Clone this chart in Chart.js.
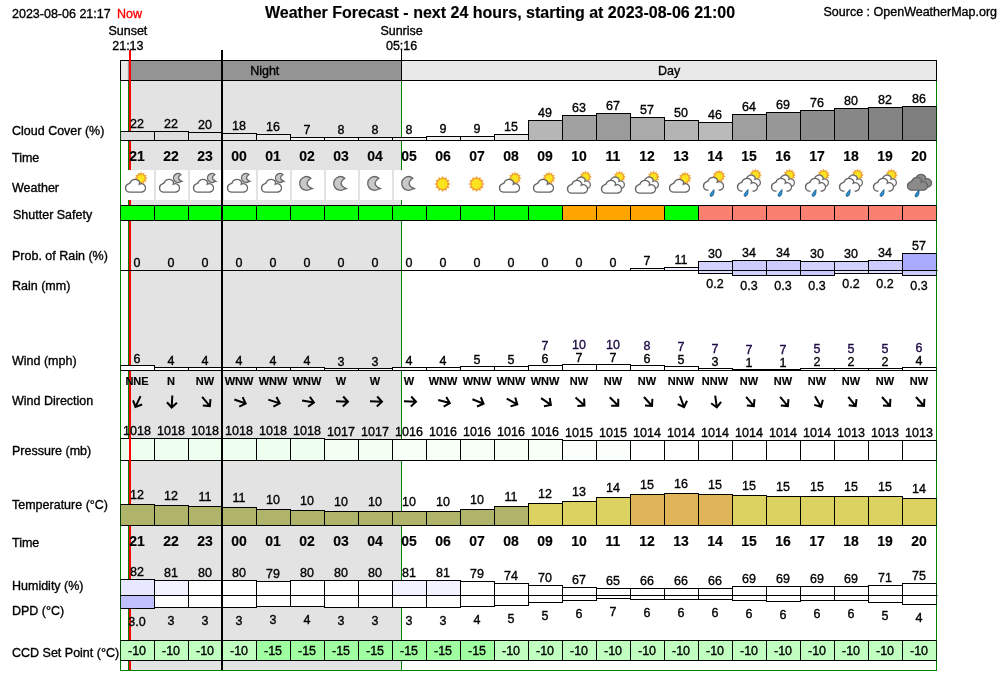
<!DOCTYPE html>
<html>
<head>
<meta charset="utf-8">
<title>Weather Forecast</title>
<script src="https://cdn.jsdelivr.net/npm/chart.js@4/dist/chart.umd.min.js"></script>
<style>
  html, body { margin: 0; background: #fff; }
  canvas { display: block; }
</style>
</head>
<body>
<canvas id="chart" width="1000" height="680"></canvas>
<script>
const hours = ['21','22','23','00','01','02','03','04','05','06','07','08','09','10','11','12','13','14','15','16','17','18','19','20'];
const cloud = [22,22,20,18,16,7,8,8,8,9,9,15,49,63,67,57,50,46,64,69,76,80,82,86];
const icons = ['cs','cm','cm','cm','cm','m','m','m','m','s','s','cs','cs','ccs','ccs','ccs','cs','rcs','rccs','rccs','rccs','rccs','rccs','rd'];
const shutter = [0,0,0,0,0,0,0,0,0,0,0,0,0,1,1,1,0,2,2,2,2,2,2,2];
const rainProb = [0,0,0,0,0,0,0,0,0,0,0,0,0,0,0,7,11,30,34,34,30,30,34,57];
const rainMm = [0,0,0,0,0,0,0,0,0,0,0,0,0,0,0,0,0,0.19,0.27,0.27,0.32,0.16,0.2,0.3];
const wind = [6,4,4,4,4,4,3,3,4,4,5,5,6,7,7,6,5,3,1,1,2,2,2,4];
const gust = [null,null,null,null,null,null,null,null,null,null,null,null,7,10,10,8,7,7,7,7,5,5,5,6];
const windDir = ['NNE','N','NW','WNW','WNW','WNW','W','W','W','WNW','WNW','WNW','WNW','NW','NW','NW','NNW','NNW','NW','NW','NW','NW','NW','NW'];
const windDeg = [25,3,320,290,288,280,272,272,272,285,292,298,305,312,315,318,340,352,320,320,330,322,318,318];
const pressure = [1018,1018,1018,1018,1018,1018,1017,1017,1016,1016,1016,1016,1016,1015,1015,1014,1014,1014,1014,1014,1014,1013,1013,1013];
const temp = [11.9,11.57,11.23,10.9,10.23,9.9,9.57,9.57,9.57,9.57,10.23,11.23,12.23,12.9,14.23,15.23,15.57,15.23,14.9,14.57,14.57,14.57,14.57,13.9];
const humidity = [82,81,80,80,79,80,80,80,81,81,79,74,70,67,65,66,66,66,69,69,69,69,71,75];
const dpd = [3.0,3.12,3.12,3.12,3.52,3.68,3.12,3.12,3.28,3.28,3.52,4.2,5.28,6.08,6.88,6.48,6.48,6.48,6.08,5.68,6.08,6.08,5.28,4.48];
const dpdLabels = ['3.0','3','3','3','3','4','3','3','3','3','4','5','5','6','7','6','6','6','6','6','6','6','5','4'];
const ccd = [-10,-10,-10,-10,-15,-15,-15,-15,-15,-15,-15,-10,-10,-10,-10,-10,-10,-10,-10,-10,-10,-10,-10,-10];

// hours after 21:00
const sunsetAt = 13 / 60, nowAt = 17 / 60, midnightAt = 3, sunriseAt = 8 + 16 / 60;

const FONT = '"Liberation Sans", Arial, sans-serif';
const TOP = 50, BOTTOM = 670;
const rgb = (r, g, b) => `rgb(${r},${g},${b})`;
const clamp = v => Math.max(0, Math.min(255, Math.round(v)));
const shutterColors = ['#00ff00', '#ffa500', '#fa8072'];

// every row shares the plot area, its own scale puts it at the right height
function row(basePx, pxPerUnit, baseValue, reverse) {
  const below = (BOTTOM - basePx) / pxPerUnit, above = (basePx - TOP) / pxPerUnit;
  return reverse
    ? { display: false, reverse: true, min: baseValue - above, max: baseValue + below }
    : { display: false, min: baseValue - below, max: baseValue + above };
}

function bars(axis, data, colors, base) {
  return { type: 'bar', yAxisID: axis, data, backgroundColor: colors, base: base || 0 };
}

function cloudShape(c, x, y, s, fill, stroke) {
  c.beginPath();
  c.arc(x - 6 * s, y + 2 * s, 4.5 * s, 0.5 * Math.PI, 1.4 * Math.PI);
  c.arc(x - 0.5 * s, y - 1.5 * s, 5.5 * s, 1.1 * Math.PI, 1.85 * Math.PI);
  c.arc(x + 6 * s, y + 2 * s, 4.5 * s, 1.35 * Math.PI, 0.5 * Math.PI);
  c.closePath();
  c.fillStyle = fill; c.fill();
  c.lineWidth = 1.4; c.strokeStyle = stroke; c.stroke();
}

function sunShape(c, x, y, r) {
  c.fillStyle = '#f0a030';
  c.beginPath();
  for (let i = 0; i < 24; i++) {
    const a = i * Math.PI / 12, rr = i % 2 ? r + 1 : r + 3;
    c.lineTo(x + Math.cos(a) * rr, y + Math.sin(a) * rr);
  }
  c.closePath(); c.fill();
  c.fillStyle = '#fbe41e';
  c.beginPath(); c.arc(x, y, r, 0, 2 * Math.PI); c.fill();
}

function moonShape(c, x, y, r) {
  c.beginPath();
  c.arc(x, y, r, 0.3 * Math.PI, 1.72 * Math.PI);
  c.quadraticCurveTo(x - r * 0.55, y + r * 0.1, x + r * 0.85, y + r * 0.75);
  c.closePath();
  c.fillStyle = '#c8c8c8'; c.fill();
  c.lineWidth = 1.3; c.strokeStyle = '#666'; c.stroke();
}

function dropShape(c, x, y) {
  c.beginPath();
  c.moveTo(x + 2.5, y - 4);
  c.quadraticCurveTo(x + 3, y + 2.5, x - 0.5, y + 3);
  c.quadraticCurveTo(x - 3.5, y + 2, x + 2.5, y - 4);
  c.fillStyle = '#2a8fd0'; c.fill();
  c.lineWidth = 0.8; c.strokeStyle = '#17557f'; c.stroke();
}

function drawIcon(c, kind, x) {
  const y = 186;
  if (kind === 'm') return moonShape(c, x, 183.5, 6.8);
  if (kind === 's') return sunShape(c, x, 184, 5);
  if (kind === 'rd') {
    cloudShape(c, x + 3, 181, 0.95, '#8a8a8a', '#666');
    cloudShape(c, x - 1, 184, 0.95, '#8a8a8a', '#666');
    dropShape(c, x - 2, 194);
    return;
  }
  const rain = kind[0] === 'r';
  const body = rain ? kind.slice(1) : kind;
  const cy = rain ? y - 2 : y;
  if (body === 'cm') moonShape(c, x + 7.5, cy - 8, 4.5);
  else if (body === 'ccs') sunShape(c, x + 7, cy - 9, 3.4);
  else sunShape(c, x + 4.5, cy - 7.7, 3.6);
  if (body === 'ccs') cloudShape(c, x + 3, cy - 3, 0.85, '#fff', '#777');
  cloudShape(c, x - 1, cy + (body === 'ccs' ? 1 : 0), 0.95, '#fff', '#666');
  if (rain) {
    c.fillStyle = '#fff';
    c.fillRect(x - 6, cy + 5, 10, 4);
    dropShape(c, x - 3, 193.5);
  }
}

const rowLabels = [
  ['Cloud Cover (%)', 12, 131], ['Time', 12, 158], ['Weather', 12, 188], ['Shutter Safety', 13, 215],
  ['Prob. of Rain (%)', 12, 256], ['Rain (mm)', 12, 286], ['Wind (mph)', 12, 361], ['Wind Direction', 12, 401],
  ['Pressure (mb)', 12, 451], ['Temperature (°C)', 12, 505], ['Time', 12, 543], ['Humidity (%)', 12, 586],
  ['DPD (°C)', 12, 611], ['CCD Set Point (°C)', 12, 653],
];

function text(c, s, x, y, font, color, align) {
  c.font = font + ' ' + FONT;
  c.fillStyle = color || '#000';
  c.strokeStyle = color || '#000';
  c.textAlign = align || 'center';
  c.textBaseline = 'middle';
  // middle sits a little high in this font
  c.fillText(s, x, y + 0.6);
  // the original renderer draws small type heavier
  c.lineWidth = font.startsWith('bold') ? 0.15 : 0.35;
  c.strokeText(s, x, y + 0.6);
}

const forecastPlugin = {
  id: 'forecast',
  // one pixel line tops, so neighbouring cells share crisp edges
  afterDatasetsUpdate(chart) {
    chart.data.datasets.forEach((d, i) => {
      chart.getDatasetMeta(i).data.forEach(el => {
        el.y = Math.round(el.y);
        el.base = Math.round(el.base);
        if (el.y < el.base) el.base += 1; else if (el.y > el.base) el.y += 1;
      });
    });
  },
  beforeDatasetsDraw(chart) {
    const c = chart.ctx, t = chart.scales.xt, x = chart.scales.x;
    const sunset = t.getPixelForValue(sunsetAt), sunrise = t.getPixelForValue(sunriseAt);
    const now = t.getPixelForValue(nowAt);
    c.save();
    // night shading
    c.fillStyle = '#e3e3e3';
    c.fillRect(sunset, 80, sunrise - sunset, BOTTOM - 80);
    // green frame and sun lines
    c.fillStyle = '#008000';
    c.fillRect(120, 60, 1, BOTTOM - 60);
    c.fillRect(936, 60, 1, BOTTOM - 60);
    c.fillRect(120, BOTTOM, 817, 1);
    c.fillRect(Math.round(sunset - 0.2), 60, 1, BOTTOM - 60);
    c.fillRect(Math.round(sunrise - 0.2), 60, 1, BOTTOM - 60);
    // day / night header
    c.fillStyle = '#e9e9e9';
    c.fillRect(120, 60, 817, 20);
    c.fillStyle = '#949494';
    c.fillRect(sunset, 60, sunrise - sunset, 20);
    c.strokeStyle = '#000'; c.lineWidth = 1;
    c.strokeRect(120.5, 60.5, 816, 20);
    c.fillStyle = '#000';
    c.fillRect(Math.floor(sunrise), 50, 1, 30);
    // now line goes under the opaque cells
    c.fillStyle = '#ff0000';
    c.fillRect(Math.floor(now) - 1, 50, 2, BOTTOM - 50);
    // weather tiles and icons
    hours.forEach((h, i) => {
      const cx = x.getPixelForValue(i), left = Math.round(cx - 17) + 1;
      c.fillStyle = '#fff';
      c.fillRect(i === 0 ? left - 1 : left, 170, i === 0 ? 33 : 32, 30);
      drawIcon(c, icons[i], cx - 1);
    });
    c.restore();
  },
  afterDatasetsDraw(chart) {
    const c = chart.ctx, a = chart.chartArea, s = chart.scales, x = s.x, t = s.xt;
    const now = t.getPixelForValue(nowAt);
    const sunset = t.getPixelForValue(sunsetAt), sunrise = t.getPixelForValue(sunriseAt);
    c.save();
    // pressure cells do not hide the now line
    c.fillStyle = '#ff0000';
    c.fillRect(Math.floor(now) - 1, Math.round(s.yPressure.getPixelForValue(pressure[0])), 2, 24);

    c.fillStyle = '#000';
    c.fillRect(a.left, Math.round(s.yProb.getPixelForValue(0)), a.right - a.left + 1, 1);
    c.fillRect(a.left, Math.round(s.yHum.getPixelForValue(52)), a.right - a.left + 1, 1);
    c.fillRect(Math.floor(t.getPixelForValue(midnightAt)) - 1, TOP, 2, BOTTOM - TOP);

    const f = '12.5px', g = 'bold 14px';
    hours.forEach((h, i) => {
      const cx = x.getPixelForValue(i) - 0.5;
      text(c, cloud[i], cx, Math.round(s.yCloud.getPixelForValue(cloud[i])) - 7, f);
      text(c, h, cx, 157, g);
      text(c, h, cx, 542, g);
      text(c, rainProb[i], cx, Math.round(s.yProb.getPixelForValue(rainProb[i])) - 7, f);
      if (rainMm[i] > 0) text(c, rainMm[i].toFixed(1), cx, Math.round(s.yRain.getPixelForValue(rainMm[i])) + 11, f);
      const wy = Math.round(s.yWind.getPixelForValue(wind[i])) - 6;
      text(c, wind[i], cx, wy, f);
      if (gust[i] !== null) text(c, gust[i], cx, wy - 13, f, '#1d0a45');
      text(c, windDir[i], cx, 381, 'bold 11px');
      text(c, pressure[i], cx, Math.round(s.yPressure.getPixelForValue(pressure[i])) - 7, f);
      text(c, Math.round(temp[i]), cx, Math.round(s.yTemp.getPixelForValue(temp[i])) - 9, f);
      text(c, humidity[i], cx, Math.round(s.yHum.getPixelForValue(humidity[i])) - 7, f);
      text(c, dpdLabels[i], cx, Math.round(s.yDpd.getPixelForValue(dpd[i])) + 14, f);
      text(c, ccd[i], cx, 651, f);

      c.save();
      c.translate(cx + 1, 401.5);
      c.rotate(windDeg[i] * Math.PI / 180);
      c.strokeStyle = '#000'; c.lineWidth = 2;
      c.beginPath();
      c.moveTo(0, -6); c.lineTo(0, 6);
      c.moveTo(-5, 1); c.lineTo(0, 6); c.lineTo(5, 1);
      c.stroke();
      c.restore();
    });

    rowLabels.forEach(l => text(c, l[0], l[1], l[2], f, '#000', 'left'));

    text(c, 'Weather Forecast - next 24 hours, starting at 2023-08-06 21:00', 500, 12.5, 'bold 16px');
    text(c, '2023-08-06 21:17', 12, 13.5, f, '#000', 'left');
    text(c, 'Now', 117, 13.5, f, '#ff0000', 'left');
    text(c, 'Source : OpenWeatherMap.org', 997, 12, f, '#000', 'right');
    text(c, 'Sunset', sunset, 31, f);
    text(c, '21:13', sunset, 45.5, f);
    text(c, 'Sunrise', sunrise, 31, f);
    text(c, '05:16', sunrise, 45.5, f);
    text(c, 'Night', (sunset + sunrise) / 2, 71, f);
    text(c, 'Day', (sunrise + a.right) / 2, 71, f);
    c.restore();
  },
};

new Chart(document.getElementById('chart'), {
  data: {
    labels: hours,
    datasets: [
      bars('yCloud', cloud, cloud.map(v => { const g = clamp(255 - v * 1.5); return rgb(g, g, g); })),
      bars('yShutter', shutter.map(() => 1), shutter.map(v => shutterColors[v])),
      bars('yRain', rainMm, rainMm.map(v => { const g = clamp(255 - v * 170); return rgb(g, g, 255); })),
      bars('yProb', rainProb, rainProb.map(v => { const g = clamp(255 - v * 1.5); return rgb(g, g, 255); })),
      bars('yWind', wind, '#fff'),
      bars('yPressure', pressure, pressure.map(v => { const g = clamp(255 - (v - 1014) * 4); return rgb(g, 255, g); }), 964),
      bars('yTemp', temp, temp.map(v => v >= 15 ? '#e0b458' : v >= 12 ? '#dcd262' : '#b0b46a'), 4.9),
      bars('yHum', humidity, humidity.map(v => { const g = clamp(255 - Math.max(0, v - 80) * 12); return rgb(g, g, 255); }), 52),
      bars('yDpd', dpd, dpd.map(v => v <= 3 ? '#c0c0ff' : '#fff'), 8.2),
      bars('yCcd', ccd.map(() => 1), ccd.map(v => v === -15 ? '#a0ffa0' : '#c0ffc0')),
    ],
  },
  options: {
    responsive: false,
    animation: false,
    events: [],
    layout: { padding: { left: 120.5, right: 63.5, top: TOP, bottom: 680 - BOTTOM } },
    plugins: { legend: { display: false }, tooltip: { enabled: false } },
    datasets: {
      bar: {
        grouped: false,
        barPercentage: 35 / 34,
        categoryPercentage: 1,
        borderWidth: 1,
        borderColor: '#000',
        borderSkipped: false,
      },
    },
    scales: {
      x: { display: false, type: 'category', offset: true },
      xt: { display: false, type: 'linear', axis: 'x', min: 0, max: 24 },
      yCloud: row(140, 0.4, 0),
      yShutter: row(220, 15, 0),
      yProb: row(270, 0.3, 0),
      yRain: row(270, 16.67, 0, true),
      yWind: row(370, 0.8, 0),
      yPressure: row(460, 0.4, 964),
      yTemp: row(525, 3, 4.9),
      yHum: row(595, 0.53, 52),
      yDpd: row(594.6, 2.5, 8.2),
      yCcd: row(660, 20, 0),
    },
  },
  plugins: [forecastPlugin],
});
</script>
</body>
</html>
